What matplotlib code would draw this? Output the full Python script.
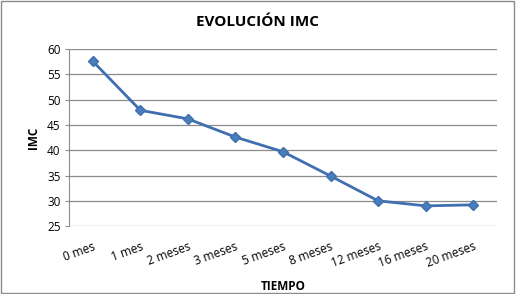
import matplotlib.pyplot as plt
from matplotlib.patches import Rectangle

# data
meses = ['0 mes', '1 mes', '2 meses', '3 meses', '5 meses', '8 meses',
         '12 meses', '16 meses', '20 meses']
imc = [57.6, 47.9, 46.2, 42.6, 39.7, 34.9, 30.0, 29.0, 29.2]

plt.rcParams['font.family'] = ['Open Sans', 'DejaVu Sans']

fig = plt.figure(figsize=(5.16, 2.94), dpi=100)
ax = fig.add_axes([0.1337, 0.231, 0.8295, 0.602])

x = list(range(len(meses)))
ax.plot(x, imc, color='#3F6FB0', linewidth=2, marker='D', markersize=5,
        markerfacecolor='#4A7EBB', markeredgecolor='#3F6FB0', zorder=3)

ax.set_xlim(-0.5, len(meses) - 0.5)
ax.set_ylim(25, 60)
ax.set_yticks(range(25, 61, 5))
ax.yaxis.grid(True, color='#8C8C8C', linewidth=0.9)
ax.set_axisbelow(True)

ax.set_xticks(x)
ax.set_xticklabels(meses, rotation=20, ha='right', rotation_mode='anchor',
                   fontsize=8.5)
ax.tick_params(axis='x', length=0, pad=10)
ax.tick_params(axis='y', length=3, color='#8C8C8C', labelsize=8.5, pad=3)

for side in ['top', 'right', 'bottom']:
    ax.spines[side].set_visible(False)
ax.spines['left'].set_color('#8C8C8C')

ax.set_ylabel('IMC', fontsize=8.5, fontweight='bold', labelpad=5)
ax.set_xlabel('TIEMPO', fontsize=8.5, fontweight='bold', labelpad=7)
fig.suptitle('EVOLUCIÓN IMC', y=0.95, fontsize=11, fontweight='bold')

fig.patches.append(Rectangle((0.002, 0.003), 0.995, 0.994, transform=fig.transFigure,
                             fill=False, edgecolor='#8C8C8C', linewidth=1))

fig.savefig('out.png', dpi=100)
